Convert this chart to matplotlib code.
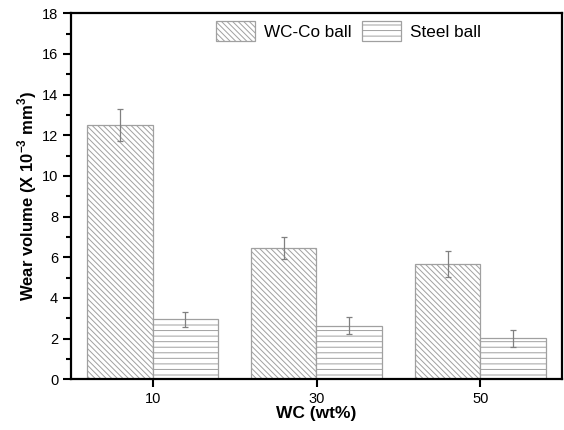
import matplotlib
matplotlib.use('Agg')
import matplotlib.pyplot as plt
import numpy as np
from matplotlib.ticker import MultipleLocator

wc = ['10', '30', '50']
wcco_ball = [12.5, 6.45, 5.66]
wcco_err = [0.8, 0.53, 0.64]
steel_ball = [2.96, 2.63, 2.01]
steel_err = [0.37, 0.42, 0.43]

plt.rcParams['font.family'] = 'Liberation Sans'
plt.rcParams['hatch.linewidth'] = 0.7
plt.rcParams['mathtext.fontset'] = 'custom'
plt.rcParams['mathtext.rm'] = 'Liberation Sans'
plt.rcParams['mathtext.bf'] = 'Liberation Sans:bold'

fig = plt.figure(figsize=(5.64, 4.30), dpi=100)
ax = fig.add_axes([70.7/564, 1-379.3/430, (562.3-70.7)/564, (379.3-13.3)/430])

x = np.arange(len(wc))
w = 0.4
ekw = dict(ecolor='#808080', elinewidth=0.9, capsize=2.4, capthick=0.9)
ax.bar(x - w/2, wcco_ball, w, yerr=wcco_err, color='white', edgecolor='#a0a0a0',
       hatch='\\\\\\\\\\\\', linewidth=0.9, label='WC-Co ball', error_kw=ekw)
ax.bar(x + w/2, steel_ball, w, yerr=steel_err, color='white', edgecolor='#a0a0a0',
       hatch='---', linewidth=0.9, label='Steel ball', error_kw=ekw)

ax.set_xlim(-0.5, 2.5)
ax.set_ylim(0, 18)
ax.set_xticks(x)
ax.set_xticklabels(wc)
ax.yaxis.set_major_locator(MultipleLocator(2))
ax.yaxis.set_minor_locator(MultipleLocator(1))
ax.tick_params(axis='both', which='major', direction='out', length=5.5, width=1.5, labelsize=10.5)
ax.tick_params(axis='y', which='minor', direction='out', length=3.5, width=1.5)
ax.tick_params(axis='x', which='minor', bottom=False)
for s in ax.spines.values():
    s.set_linewidth(1.6)

ax.set_xlabel('WC (wt%)', fontsize=12.5, fontweight='bold', labelpad=0)
ax.set_ylabel(r'Wear volume (X 10$^{\mathbf{-3}}$ mm$^{\mathbf{3}}$)', fontsize=12,
              fontweight='bold', labelpad=2)

fig.legend(loc='upper left', bbox_to_anchor=(216/564, 1-21/430), ncol=2, frameon=False,
           fontsize=12.3, handlelength=2.3, handleheight=1.4, handletextpad=0.5,
           columnspacing=0.6, borderpad=0, borderaxespad=0)

fig.savefig('out.png', dpi=100)
